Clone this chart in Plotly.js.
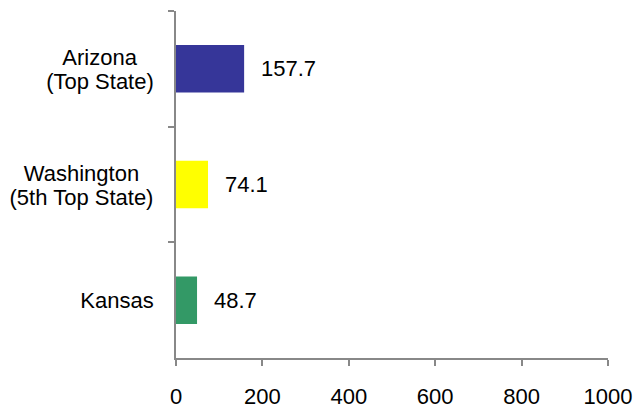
<!DOCTYPE html>
<html><head><meta charset="utf-8">
<script src="https://cdn.plot.ly/plotly-3.0.1.min.js"></script>
<style>html,body{margin:0;padding:0;background:#fff}</style>
</head><body>
<div id="chart" style="width:637px;height:409px"></div>
<script>
const categories = ["Arizona", "Washington", "Kansas"];
const subtitles = ["(Top State)", "(5th Top State)", ""];
const values = [157.7, 74.1, 48.7];
const colors = ["#363699", "#FFFF00", "#339966"];
const xTicks = [0, 200, 400, 600, 800, 1000];

const FONT = "Liberation Sans, Arial, sans-serif";
const FS = 22;
const W = 637, H = 409, ML = 176, MR = 29, MT = 11, MB = 51;
const plotW = W - ML - MR;

const ctx = document.createElement("canvas").getContext("2d");
ctx.font = FS + "px 'Liberation Sans', Arial, sans-serif";
const measure = s => s ? ctx.measureText(s).width : 0;

const trace = {
  type: "bar",
  orientation: "h",
  y: categories,
  x: values,
  marker: {color: colors, line: {width: 0}},
  width: 0.41,
  hoverinfo: "none"
};

const annotations = [];
values.forEach((v, i) => {
  annotations.push({
    x: v, y: categories[i], xref: "x", yref: "y",
    text: v.toFixed(1), showarrow: false, xanchor: "left", xshift: 15,
    font: {family: FONT, size: FS, color: "#000"}
  });
});

const labelRight = -19 / plotW; // right edge of category labels, paper coords
categories.forEach((c, i) => {
  const lines = subtitles[i] ? [c, subtitles[i]] : [c];
  const bw = Math.ceil(Math.max(...lines.map(measure))) + 4;
  lines.forEach((ln, j) => {
    const shift = lines.length === 1 ? 0 : (j === 0 ? 11 : -13);
    annotations.push({
      x: labelRight, xref: "paper", y: c, yref: "y",
      text: ln, showarrow: false, xanchor: "right", align: "center",
      width: bw, yshift: shift, borderpad: 0,
      font: {family: FONT, size: FS, color: "#000"}
    });
  });
});

const layout = {
  width: W, height: H,
  margin: {l: ML, r: MR, t: MT, b: MB},
  paper_bgcolor: "#fff", plot_bgcolor: "#fff",
  showlegend: false,
  font: {family: FONT, size: FS, color: "#000"},
  xaxis: {
    range: [0, 1000], tickvals: xTicks, ticktext: xTicks.map(String),
    showgrid: false, zeroline: false, showline: true, linecolor: "#888", linewidth: 2,
    ticks: "outside", ticklen: 6, tickwidth: 2, tickcolor: "#888",
    ticklabelstandoff: 12, fixedrange: true
  },
  yaxis: {
    type: "category", autorange: "reversed", tickson: "boundaries",
    showticklabels: false,
    showgrid: false, zeroline: false, showline: true, linecolor: "#888", linewidth: 2,
    ticks: "outside", ticklen: 6, tickwidth: 2, tickcolor: "#888",
    fixedrange: true
  },
  annotations: annotations
};

Plotly.newPlot("chart", [trace], layout, {displayModeBar: false, staticPlot: true});
</script>
</body></html>
